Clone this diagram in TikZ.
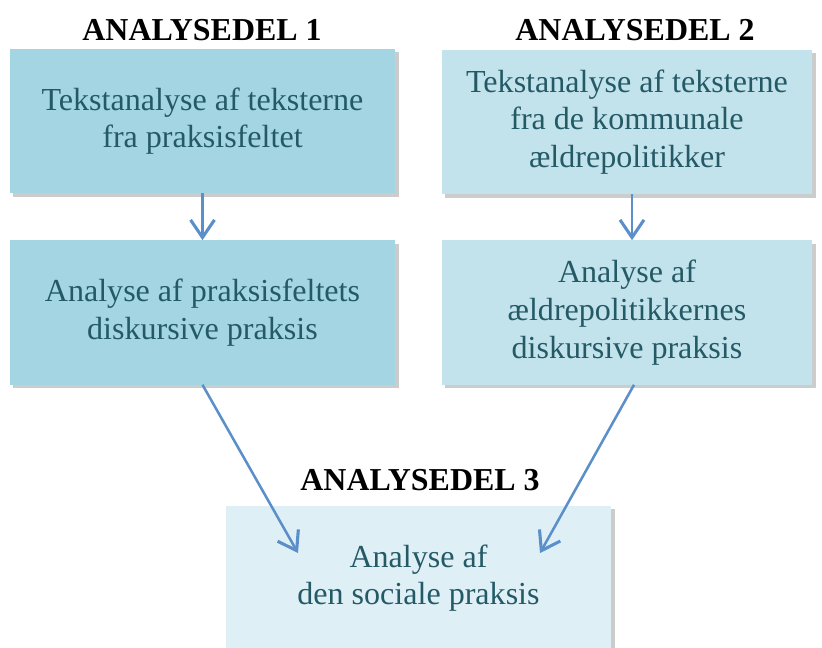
\documentclass[tikz,border=0pt]{standalone}
\usepackage{fontspec}
\setmainfont{Liberation Serif}
\usetikzlibrary{arrows.meta,shadows}
\definecolor{boxdark}{HTML}{A3D5E3}
\definecolor{boxmid}{HTML}{C2E3EC}
\definecolor{boxlight}{HTML}{DFEFF6}
\definecolor{boxtext}{HTML}{245A66}
\definecolor{arrowblue}{HTML}{5B8FC9}
\begin{document}
\begin{tikzpicture}[x=0.025cm,y=-0.025cm,
	box/.style={rectangle, minimum height=3.6cm, align=center, text=boxtext,
		font=\fontsize{22.8}{26.8}\selectfont,
		drop shadow={shadow xshift=2.5pt, shadow yshift=-2.5pt, opacity=0.4}},
	title/.style={font=\fontsize{22.7}{26}\selectfont\bfseries},
	pil/.style={draw=arrowblue, line width=1.8pt, -{Straight Barb[length=12.5pt,width=17pt,line width=2.2pt]}}]
	\useasboundingbox (0,0) rectangle (822,648);

	\node[title] (titel1) at (202,30) {ANALYSEDEL 1};
	\node[title] (titel2) at (635,30) {ANALYSEDEL 2};
	\node[title] (titel3) at (420,480) {ANALYSEDEL 3};

	\node[box, fill=boxdark, minimum width=9.625cm] (tekst1) at (202.5,121) {Tekstanalyse af teksterne\\fra praksisfeltet};
	\node[box, fill=boxdark, minimum width=9.625cm] (diskurs1) at (202.5,312.5) {Analyse af praksisfeltets\\diskursive praksis};
	\node[box, fill=boxmid, minimum width=9.25cm] (tekst2) at (627,122) {Tekstanalyse af teksterne\\fra de kommunale\\ældrepolitikker};
	\node[box, fill=boxmid, minimum width=9.25cm] (diskurs2) at (627,312.5) {Analyse af\\ældrepolitikkernes\\diskursive praksis};
	\node[box, fill=boxlight, minimum width=9.625cm] (social) at (418.5,578) {Analyse af\\den sociale praksis};

	\coordinate (indV) at (298,553);
	\coordinate (indH) at (540,553);

	\draw[pil] (tekst1.south) -- (diskurs1.north);
	\draw[pil] (tekst2.south -| 632,0) -- (diskurs2.north -| 632,0);
	\draw[pil] (diskurs1.south) -- (indV);
	\draw[pil] (diskurs2.south -| 634,0) -- (indH);
\end{tikzpicture}
\end{document}
